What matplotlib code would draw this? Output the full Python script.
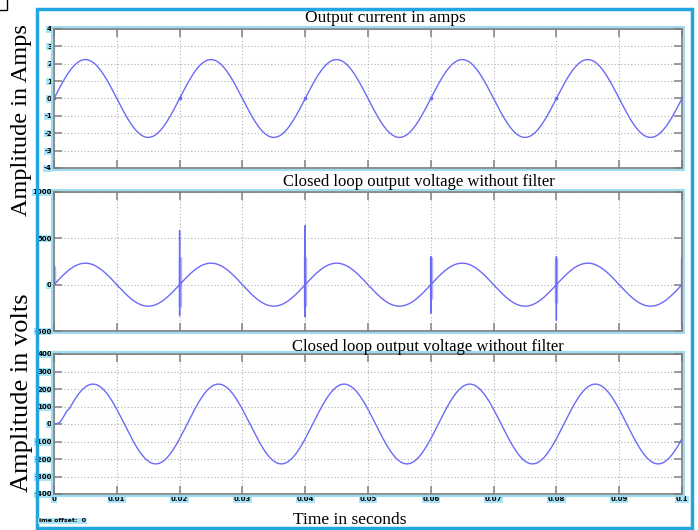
import numpy as np
import matplotlib
matplotlib.use("Agg")
import matplotlib.pyplot as plt
from matplotlib.patches import Rectangle

plt.rcParams["axes.unicode_minus"] = False

# values
freq = 50.0                      # Hz, one cycle every 0.02 s
t_end = 0.1
current_amp = 2.24               # A
volt_nofilt_amp = 232.0          # V
volt_filt_amp = 228.0            # V
volt_filt_lag = 0.0012           # s, phase lag of the filtered voltage

# switching spikes on the unfiltered voltage
spike_t = [0.0, 0.02, 0.04, 0.06, 0.08, 0.1]
spike_hi = [200, 582, 636, 302, 302, 291]
spike_lo = [0, -335, -345, -306, -381, -435]
band_hi = [200, 302, 302, 302, 290, 291]
band_lo = [0, -238, -230, -150, -200, -435]

# start-up transient of the filtered voltage
start_t = [0.0, 0.0005, 0.001, 0.0015, 0.002, 0.0025]
start_v = [0, 2, 12, 40, 72, 90]

titles = ["Output current in amps",
          "Closed loop output voltage without filter",
          "Closed loop output voltage without filter"]
ylims = [(-4, 4), (-500, 1000), (-400, 400)]
yticks = [list(range(-4, 5)), [-500, 0, 500, 1000], list(range(-400, 401, 100))]
xticks = [round(0.01 * i, 2) for i in range(11)]
xticklabels = ["0", "0.01", "0.02", "0.03", "0.04", "0.05", "0.06", "0.07", "0.08", "0.09", "0.1"]

line_col = "#6b6bf7"
tick_bg = "#a9e3f5"

t = np.linspace(0, t_end, 4001)
w = 2 * np.pi * freq

i_out = current_amp * np.sin(w * t)

# unfiltered voltage with the spikes spliced in
v1_t, v1_v = [], []
for k in range(len(t)):
    v1_t.append(t[k])
    v1_v.append(volt_nofilt_amp * np.sin(w * t[k]))
    for j, ts in enumerate(spike_t):
        if abs(t[k] - ts) < 1e-9:
            v1_t += [ts, ts, ts]
            v1_v += [spike_hi[j], spike_lo[j], volt_nofilt_amp * np.sin(w * ts)]

tf = t[t > start_t[-1]]
v2_t = np.concatenate([start_t, tf])
v2_v = np.concatenate([start_v, volt_filt_amp * np.sin(w * (tf - volt_filt_lag))])

fig = plt.figure(figsize=(6.98, 5.30), dpi=100)
W, H = 698, 530

def fx(px):
    return px / W

def fy(py):
    return 1 - py / H

axes_px = [(29, 168), (192, 331), (354, 494)]
left_px, right_px = 54, 682
axs = []
for top, bot in axes_px:
    ax = fig.add_axes([fx(left_px), fy(bot), fx(right_px - left_px), (bot - top) / H])
    axs.append(ax)
    # light blue halo round each axes box
    fig.patches.append(Rectangle((fx(left_px - 2), fy(bot + 2)), fx(right_px - left_px + 4),
                                 (bot - top + 4) / H, transform=fig.transFigure,
                                 fill=False, edgecolor="#9fdcf2", lw=1.5, zorder=0))

for i, ax in enumerate(axs):
    ax.set_xlim(0, t_end)
    ax.set_ylim(*ylims[i])
    ax.set_xticks(xticks)
    ax.set_yticks(yticks[i])
    ax.grid(True, color="#b0b0b0", linestyle=(0, (1, 2)), linewidth=0.8)
    ax.tick_params(direction="in", length=6, width=1.2, color="#8a8a8a",
                   top=True, right=True, labelsize=5, pad=1.5)
    for sp in ax.spines.values():
        sp.set_color("#7a7a7a")
        sp.set_linewidth(1.2)
    if i < 2:
        ax.set_xticklabels([])
    else:
        ax.set_xticklabels(xticklabels)
    for lbl in ax.get_yticklabels() + ax.get_xticklabels():
        lbl.set_fontweight("bold")
        lbl.set_bbox(dict(facecolor=tick_bg, edgecolor="none", pad=0.4))

axs[0].plot(t, i_out, color=line_col, lw=1.0)
for ts in spike_t:
    axs[0].plot(ts, 0, "s", color=line_col, ms=2)

axs[1].plot(v1_t, v1_v, color=line_col, lw=1.0)
axs[1].vlines(spike_t, band_lo, band_hi, color=line_col, lw=2.5, alpha=0.5)

axs[2].plot(v2_t, v2_v, color=line_col, lw=1.0)

title_y = [18, 182, 347]
title_x = [385, 419, 428]
title_fs = [12.5, 12, 12]
for i in range(3):
    fig.text(fx(title_x[i]), fy(title_y[i]), titles[i], ha="center", va="center",
             family="Liberation Serif", fontsize=title_fs[i])

fig.text(fx(22), fy(120), "Amplitude in Amps", rotation=90, ha="center", va="center",
         family="Liberation Serif", fontsize=17.5)
fig.text(fx(22), fy(393), "Amplitude in volts", rotation=90, ha="center", va="center",
         family="Liberation Serif", fontsize=19)
fig.text(fx(350), fy(520), "Time in seconds", ha="center", va="center",
         family="Liberation Serif", fontsize=12.5)
fig.text(fx(39), fy(521), "ime offset:  0", ha="left", va="center", fontsize=4.5,
         fontweight="bold", bbox=dict(facecolor=tick_bg, edgecolor="none", pad=0.4))

# outer blue frame
fig.patches.append(Rectangle((fx(37), fy(528)), fx(692 - 37), (528 - 9) / H,
                             transform=fig.transFigure, fill=False,
                             edgecolor="#22a6e0", lw=2.5, zorder=0))
# small corner mark at top-left
fig.lines.append(plt.Line2D([fx(0), fx(7), fx(7)], [fy(10), fy(10), fy(0)],
                            transform=fig.transFigure, color="black", lw=1))

fig.savefig("out.png", dpi=100)
